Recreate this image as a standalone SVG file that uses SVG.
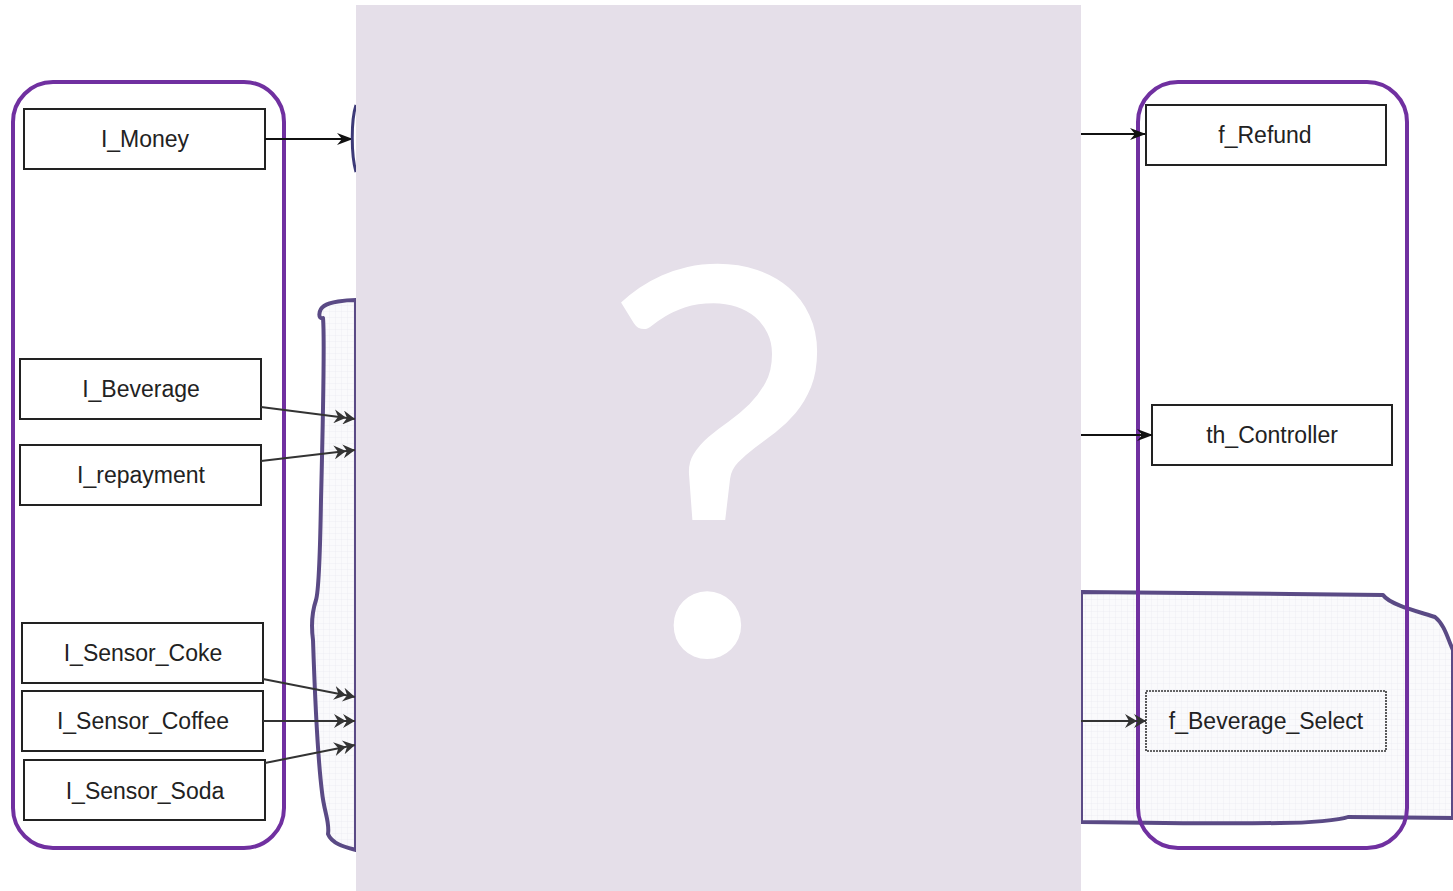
<svg xmlns="http://www.w3.org/2000/svg" width="1453" height="891" viewBox="0 0 1453 891">
<defs>
<pattern id="grid" width="6" height="6" patternUnits="userSpaceOnUse">
<rect width="6" height="6" fill="#fafafc"/>
<path d="M6 0V6M0 6H6" stroke="#e8e8ee" stroke-width="0.6"/>
</pattern>
<marker id="ah" viewBox="0 0 16 12" refX="15" refY="6" markerWidth="16" markerHeight="12" markerUnits="userSpaceOnUse" orient="auto">
<path d="M0 0L16 6L0 12L5 6Z" fill="#111"/>
</marker>
<marker id="ah2" viewBox="0 0 22 14" refX="21" refY="7" markerWidth="22" markerHeight="14" markerUnits="userSpaceOnUse" orient="auto">
<path d="M0 0L12 7L0 14L4 7Z M9 0L21 7L9 14L13 7Z" fill="#333"/>
</marker>
</defs>
<style>
.grp{fill:none;stroke:#7030a0;stroke-width:4}
.box{fill:#fff;stroke:#222;stroke-width:2}
.lbl{font-family:"Liberation Sans",Arial,sans-serif;font-size:23px;fill:#222;text-anchor:middle;dominant-baseline:central}
.cloud{fill:url(#grid);stroke:#5a4a85;stroke-width:4;stroke-linejoin:round}
.ln{stroke:#111;stroke-width:2;fill:none}
.ln2{stroke:#333;stroke-width:1.8;fill:none}
</style>
<rect width="1453" height="891" fill="#fff"/>
<g id="clouds">
<path class="cloud" d="M356 300 C345 300 330 302 324 306 C318 310 318 320 323 318 C325 340 323 420 321 500 C320 560 319 590 316 600 C312 612 311 625 313 640 C315 700 318 760 322 792 C324 812 330 822 328 834 C332 844 345 847 356 850 L356 300 Z"/>
<path class="cloud" d="M1081 592 L1290 594 L1383 595 C1390 605 1420 612 1435 617 C1445 625 1448 640 1453 650 L1453 818 C1420 818 1380 817 1348 817 C1340 820 1310 823 1280 823 C1220 824 1150 823 1081 822 Z"/>
</g>
<g id="groups">
<rect class="grp" x="13" y="82" width="271" height="766" rx="40"/>
<rect class="grp" x="1138" y="82" width="269" height="766" rx="40"/>
</g>
<g id="I_Money"><rect class="box" x="24" y="109" width="241" height="60"/><text class="lbl" x="145" y="139">I_Money</text></g>
<g id="I_Beverage"><rect class="box" x="20" y="359" width="241" height="60"/><text class="lbl" x="141" y="389">I_Beverage</text></g>
<g id="I_repayment"><rect class="box" x="20" y="445" width="241" height="60"/><text class="lbl" x="141" y="475">I_repayment</text></g>
<g id="I_Sensor_Coke"><rect class="box" x="22" y="623" width="241" height="60"/><text class="lbl" x="143" y="653">I_Sensor_Coke</text></g>
<g id="I_Sensor_Coffee"><rect class="box" x="22" y="691" width="241" height="60"/><text class="lbl" x="143" y="721">I_Sensor_Coffee</text></g>
<g id="I_Sensor_Soda"><rect class="box" x="24" y="760" width="241" height="60"/><text class="lbl" x="145" y="791">I_Sensor_Soda</text></g>
<g id="f_Refund"><rect class="box" x="1146" y="105" width="240" height="60"/><text class="lbl" x="1265" y="135">f_Refund</text></g>
<g id="th_Controller"><rect class="box" x="1152" y="405" width="240" height="60"/><text class="lbl" x="1272" y="435">th_Controller</text></g>
<g id="f_Beverage_Select"><rect x="1146" y="691" width="240" height="60" fill="none" stroke="#333" stroke-width="1.6" stroke-dasharray="2 1"/><text class="lbl" x="1266" y="721" fill="#444">f_Beverage_Select</text></g>
<g id="connectors">
<line class="ln" x1="265" y1="139" x2="352" y2="139" marker-end="url(#ah)"/>
<line class="ln2" x1="261" y1="407" x2="355" y2="419" marker-end="url(#ah2)"/>
<line class="ln2" x1="261" y1="461" x2="355" y2="450" marker-end="url(#ah2)"/>
<line class="ln2" x1="263" y1="679" x2="355" y2="697" marker-end="url(#ah2)"/>
<line class="ln2" x1="263" y1="721" x2="355" y2="721" marker-end="url(#ah2)"/>
<line class="ln2" x1="265" y1="763" x2="355" y2="745" marker-end="url(#ah2)"/>
<line class="ln" x1="1081" y1="134" x2="1145" y2="134" marker-end="url(#ah)"/>
<line class="ln" x1="1081" y1="435" x2="1152" y2="435" marker-end="url(#ah)"/>
<line class="ln2" x1="1081" y1="721" x2="1146" y2="721" marker-end="url(#ah2)"/>
</g>
<path d="M356 105 C351 120 351 155 356 172" fill="none" stroke="#3d3a78" stroke-width="3"/>
<g id="placeholder">
<rect x="356" y="5" width="725" height="886" fill="#e5dfe9"/>
<text x="720" y="655" font-family="Lato,sans-serif" font-size="540" fill="#fff" text-anchor="middle">?</text>
</g>
</svg>
